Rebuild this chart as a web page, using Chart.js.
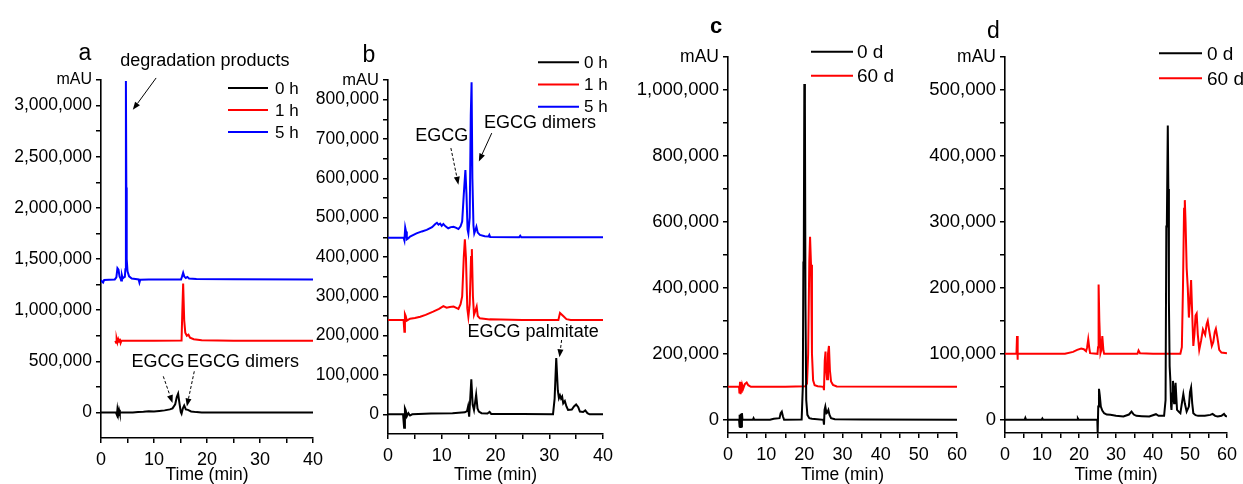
<!DOCTYPE html>
<html><head><meta charset="utf-8">
<script src="https://cdn.jsdelivr.net/npm/chart.js@4.4.1/dist/chart.umd.min.js"></script>
<style>
html,body{margin:0;padding:0;background:#fff;}
#wrap{position:relative;width:1243px;height:484px;overflow:hidden;background:#fff;}
canvas{position:absolute;left:0;top:0;}
</style></head><body>
<div id="wrap">
<canvas id="ca" width="1243" height="484"></canvas>
<canvas id="cb" width="1243" height="484"></canvas>
<canvas id="cc" width="1243" height="484"></canvas>
<canvas id="cd" width="1243" height="484"></canvas>
</div>
<script>
// ---------- DATA (time in min, signal in mAU) ----------
// Panel a
const a_0h = [[0,0],[2.8,0],[3.0,-25000],[3.1,30000],[3.25,-20000],[3.4,25000],[3.55,-10000],[3.7,0],[6,0],[7,4000],[8,7000],[9,12000],[10,9000],[11,14000],[12,20000],[13,30000],[13.5,40000],[14.0,80000],[14.3,150000],[14.55,183000],[14.8,90000],[15.05,5000],[15.2,-12000],[15.45,40000],[15.7,68000],[16.0,30000],[16.4,25000],[17,10000],[18,3000],[19,0],[40,0]];
const a_1h = [[2.7,700000],[2.85,680000],[2.95,720000],[3.1,685000],[3.25,715000],[3.4,690000],[3.55,720000],[3.7,680000],[3.85,700000],[6,700000],[10,700000],[15.2,702000],[15.35,1000000],[15.5,1260000],[15.7,900000],[15.9,780000],[16.2,750000],[16.5,760000],[16.8,730000],[17.5,715000],[19,705000],[25,700000],[40,700000]];
const a_5h = [[0,1295000],[0.2,1280000],[0.4,1270000],[0.6,1295000],[1.5,1298000],[2.6,1300000],[2.9,1320000],[3.1,1410000],[3.3,1395000],[3.5,1330000],[3.7,1310000],[3.8,1290000],[3.95,1340000],[4.1,1310000],[4.3,1320000],[4.5,1325000],[4.6,1400000],[4.7,3240000],[4.78,2200000],[4.85,1500000],[5.0,1380000],[5.3,1330000],[5.8,1310000],[6.5,1305000],[7.1,1300000],[7.25,1270000],[7.4,1298000],[9,1300000],[15.1,1300000],[15.3,1330000],[15.5,1365000],[15.7,1330000],[16.0,1315000],[16.3,1325000],[16.6,1310000],[18,1305000],[25,1302000],[40,1300000]];
// Panel b
const b_0h = [[0,0],[2.8,0],[3.0,-34000],[3.15,15000],[3.3,10000],[3.5,-5000],[3.8,3000],[4.1,-3000],[4.5,0],[8,2000],[12,3000],[14.3,5000],[14.7,8000],[14.9,20000],[15.1,-6000],[15.3,40000],[15.5,89000],[15.75,25000],[16.0,11000],[16.2,30000],[16.4,50000],[16.65,15000],[16.9,7000],[17.4,3000],[18.5,2000],[18.9,6000],[19.2,1000],[25,1000],[30.7,0],[31.0,40000],[31.3,143000],[31.6,60000],[31.8,41000],[32.0,48000],[32.2,40000],[32.4,45000],[32.6,28000],[32.9,34000],[33.2,20000],[33.5,11000],[34.2,12000],[34.6,20000],[35.0,25000],[35.4,18000],[35.7,7000],[36.3,6000],[36.7,10000],[37.1,3000],[37.5,0],[40,0]];
const b_1h = [[0,240000],[2.9,240000],[3.05,210000],[3.15,255000],[3.3,250000],[3.5,238000],[4.1,243000],[5,245000],[6,248000],[7,253000],[8.4,261000],[9.5,268000],[10.3,275000],[10.9,271000],[11.5,273000],[12.2,274000],[12.8,270000],[13.1,268000],[13.5,280000],[13.8,300000],[14.1,400000],[14.3,445000],[14.5,400000],[14.75,270000],[14.95,248000],[15.2,280000],[15.45,400000],[15.6,420000],[15.8,300000],[16.0,253000],[16.3,265000],[16.5,274000],[16.7,250000],[17.1,244000],[18.9,241000],[19,242000],[25,240000],[31.7,240000],[32.0,258000],[32.3,254000],[32.6,250000],[33.2,242000],[34,240000],[40,240000]];
const b_5h = [[0,449000],[2.9,449000],[3.05,442000],[3.2,475000],[3.35,465000],[3.5,445000],[3.8,448000],[4.1,452000],[5.3,460000],[6.3,465000],[7.2,469000],[8.2,476000],[8.8,484000],[9.1,487000],[9.4,482000],[9.7,485000],[10.0,479000],[10.3,484000],[10.7,478000],[11.2,473000],[11.7,476000],[12.2,477000],[12.7,474000],[13.1,471000],[13.5,478000],[13.8,490000],[14.1,560000],[14.4,621000],[14.6,560000],[14.8,470000],[14.95,460000],[15.2,500000],[15.4,760000],[15.55,844000],[15.7,600000],[15.9,480000],[16.05,460000],[16.3,470000],[16.45,477000],[16.7,462000],[17.1,456000],[18.0,453000],[18.7,452000],[18.85,456000],[19.0,451000],[24.4,450000],[24.6,454000],[24.8,450000],[40,450000]];
// Panel c
const c_0d = [[0,0],[2.9,0],[3.0,-22000],[3.1,15000],[3.2,-22000],[3.35,18000],[3.5,-20000],[3.65,20000],[3.8,0],[4.5,0],[6.5,0],[6.7,5000],[6.9,0],[11,0],[12,3000],[13.5,5000],[13.8,20000],[14.1,25000],[14.4,10000],[14.7,0],[19.3,1000],[19.6,100000],[19.75,480000],[19.85,470000],[20.0,1018000],[20.15,960000],[20.3,350000],[20.5,60000],[20.8,15000],[21.3,5000],[22,3000],[25.0,0],[25.15,-15000],[25.3,30000],[25.5,40000],[25.8,20000],[26.0,22000],[26.3,30000],[26.6,15000],[27.0,5000],[28,2000],[35,1000],[60,0]];
const c_60d = [[0,100000],[2.9,100000],[3.0,80000],[3.15,115000],[3.3,78000],[3.45,112000],[3.6,82000],[3.75,105000],[4.0,95000],[4.4,108000],[4.9,113000],[5.3,105000],[6,100000],[15,100000],[20.3,102000],[20.7,110000],[21.0,200000],[21.3,480000],[21.5,555000],[21.75,470000],[22.0,200000],[22.3,120000],[22.7,105000],[23.5,102000],[25.0,100000],[25.15,90000],[25.35,180000],[25.55,207000],[25.75,150000],[25.95,123000],[26.2,200000],[26.45,224000],[26.7,150000],[27.0,116000],[27.5,106000],[28.5,101000],[60,100000]];
// Panel d
const d_0d = [[0,0],[5.3,0],[5.5,3000],[5.7,0],[9.9,0],[10.1,2000],[10.3,0],[19.5,0],[19.7,2000],[19.9,0],[24.95,0],[25.05,-20000],[25.2,20000],[25.4,47000],[25.6,38000],[25.9,20000],[26.3,14000],[26.8,10000],[27.5,8000],[28.5,7500],[30,6000],[32,5000],[33.5,8000],[34.2,12500],[34.8,8000],[35.5,6000],[37,5500],[39,5000],[40.8,8500],[41.5,6000],[43.0,6000],[43.4,30000],[43.6,293000],[43.75,300000],[44.0,446000],[44.15,350000],[44.3,180000],[44.5,81000],[44.7,59000],[44.9,20000],[45.0,15000],[45.2,40000],[45.4,59000],[45.6,30000],[45.7,25000],[45.9,45000],[46.1,56000],[46.3,35000],[46.5,15000],[47.0,12000],[47.4,10000],[47.8,25000],[48.2,39000],[48.6,25000],[49.1,12500],[49.7,20000],[50.0,42000],[50.3,49000],[50.6,25000],[50.9,10000],[51.5,7000],[52.2,6000],[54,6000],[55.5,7500],[56.1,9000],[56.8,6000],[57.5,5000],[58.5,6000],[59.2,9000],[59.6,6000],[60,5000]];
const d_60d = [[0,100000],[3.1,100000],[3.25,127000],[3.35,91000],[3.5,100000],[10,100000],[16.2,100000],[18.4,103000],[19.5,106000],[20.6,108000],[21.3,107000],[21.9,104000],[22.2,110000],[22.5,122000],[22.8,108000],[23.0,101000],[25.0,100000],[25.15,110000],[25.3,205000],[25.5,150000],[25.8,101000],[26.0,105000],[26.3,127000],[26.6,105000],[26.8,100000],[35.8,100000],[36.1,105000],[36.5,101000],[40,100000],[47.4,100000],[47.8,110000],[48.1,200000],[48.4,320000],[48.6,333000],[48.8,300000],[49.1,230000],[49.4,200000],[49.7,155000],[50.0,180000],[50.3,212000],[50.6,160000],[50.9,112000],[51.2,130000],[51.5,158000],[51.8,161000],[52.1,130000],[52.5,106000],[53.0,120000],[53.5,137000],[53.8,133000],[54.1,129000],[54.5,145000],[54.8,150000],[55.2,135000],[55.9,112000],[56.3,118000],[56.7,133000],[57.0,138000],[57.4,125000],[57.9,106000],[58.5,102000],[60,101000]];

// Tick values
const xMajor40 = [0,10,20,30,40], xMinor40 = [5,15,25,35];
const xMajor60 = [0,10,20,30,40,50,60], xMinor60 = [5,15,25,35,45,55];
const yMajorA = [0,500000,1000000,1500000,2000000,2500000,3000000];
const yMinorA = [250000,750000,1250000,1750000,2250000,2750000];
const yMajorB = [0,100000,200000,300000,400000,500000,600000,700000,800000];
const yMinorB = [50000,150000,250000,350000,450000,550000,650000,750000];
const yMajorC = [0,200000,400000,600000,800000,1000000];
const yMinorC = [100000,300000,500000,700000,900000];
const yMajorD = [0,100000,200000,300000,400000,500000];
const yMinorD = [50000,150000,250000,350000,450000];

// Labels
const hLabels = ['0 h','1 h','5 h'];
const dLabels = ['0 d','60 d'];

// ---------- RENDER ----------
Chart.defaults.font.family = "'Liberation Sans', Arial, Helvetica, sans-serif";
Chart.defaults.color = '#000';
const FF = "'Liberation Sans', Arial, Helvetica, sans-serif";
const LW = 2;
const fmt = v => v.toLocaleString('en-US');

function arrow(ctx, x1, y1, x2, y2, dashed) {
  ctx.save();
  ctx.strokeStyle = '#000'; ctx.fillStyle = '#000'; ctx.lineWidth = 1;
  if (dashed) ctx.setLineDash([3, 2]);
  const ang = Math.atan2(y2 - y1, x2 - x1), L = 8, Wd = 3;
  const bx = x2 - L * Math.cos(ang), by = y2 - L * Math.sin(ang);
  ctx.beginPath(); ctx.moveTo(x1, y1); ctx.lineTo(bx, by); ctx.stroke();
  ctx.setLineDash([]);
  ctx.beginPath(); ctx.moveTo(x2, y2);
  ctx.lineTo(bx + Wd * Math.sin(ang), by - Wd * Math.cos(ang));
  ctx.lineTo(bx - Wd * Math.sin(ang), by + Wd * Math.cos(ang));
  ctx.closePath(); ctx.fill();
  ctx.restore();
}

function makeDecor(p) {
  return {
    id: 'decor',
    afterDraw(chart) {
      const ctx = chart.ctx, ca = chart.chartArea, xs = chart.scales.x, ys = chart.scales.y;
      ctx.save();
      ctx.fillStyle = '#000';
      ctx.font = p.letter.font; ctx.textAlign = 'center'; ctx.textBaseline = 'alphabetic';
      ctx.fillText(p.letter.text, ca.left + p.letter.dx, ca.top + p.letter.dy);
      // legend
      p.series.forEach((s, i) => {
        const y = ca.top + p.legend.dy + i * p.legend.gap, x0 = ca.left + p.legend.dx;
        ctx.strokeStyle = s.color; ctx.lineWidth = LW;
        ctx.beginPath(); ctx.moveTo(x0, y); ctx.lineTo(x0 + p.legend.len, y); ctx.stroke();
        ctx.fillStyle = '#000';
        ctx.font = p.legend.size + 'px ' + FF; ctx.textAlign = 'left'; ctx.textBaseline = 'middle';
        ctx.fillText(s.label, x0 + p.legend.len + p.legend.tgap, y + 1);
      });
      // annotations
      (p.notes || []).forEach(n => {
        ctx.font = '18px ' + FF; ctx.textAlign = 'center'; ctx.textBaseline = 'middle'; ctx.fillStyle = '#000';
        ctx.fillText(n.text, xs.getPixelForValue(n.x), ys.getPixelForValue(n.y));
      });
      (p.arrows || []).forEach(a => {
        arrow(ctx, xs.getPixelForValue(a.from[0]), ys.getPixelForValue(a.from[1]),
              xs.getPixelForValue(a.to[0]), ys.getPixelForValue(a.to[1]), a.dashed);
      });
      ctx.restore();
    }
  };
}

function makePanel(p) {
  const W = p.yAxisWidth, H = 484 - p.area.bottom;
  const datasets = p.series.map(s => ({
    label: s.label, data: s.data.map(([x, y]) => ({ x, y })),
    borderColor: s.color, backgroundColor: s.color, borderWidth: LW,
    pointRadius: 0, tension: 0, fill: false
  }));
  const yVals = [...p.yMajor, ...p.yMinor, p.yMax].sort((a, b) => a - b);
  const xVals = [...p.xMajor, ...p.xMinor].sort((a, b) => a - b);
  const axisGrid = { drawOnChartArea: false, drawTicks: true, tickLength: 5, color: '#000', lineWidth: 1.5 };
  const axisBorder = { display: true, color: '#000', width: 1.6 };
  new Chart(document.getElementById(p.id), {
    type: 'line',
    data: { datasets },
    options: {
      responsive: false, animation: false, devicePixelRatio: 1,
      layout: { padding: { left: p.area.left - W, right: 1243 - p.area.right, top: p.area.top, bottom: 0 } },
      plugins: { legend: { display: false }, tooltip: { enabled: false } },
      scales: {
        x: {
          type: 'linear', min: p.xMin, max: p.xMax, offset: false,
          afterBuildTicks: s => { s.ticks = xVals.map(v => ({ value: v })); },
          afterFit: s => { s.height = H; },
          ticks: { autoSkip: false, maxRotation: 0, padding: 6, font: { size: 18 },
                   callback: v => p.xMajor.includes(v) ? String(v) : '' },
          grid: axisGrid, border: axisBorder,
          title: { display: true, text: 'Time (min)', font: { size: 17.5, lineHeight: 1 }, padding: { top: 0, bottom: 0 } }
        },
        y: {
          type: 'linear', min: p.yMin, max: p.yMax,
          afterBuildTicks: s => { s.ticks = yVals.map(v => ({ value: v })); },
          afterFit: s => { s.width = W; },
          ticks: { autoSkip: false, padding: 4,
                   font: c => ({ size: (c.tick && c.tick.value === p.yMax) ? p.mauSize : p.yFont }),
                   callback: v => v === p.yMax ? 'mAU' : (p.yMajor.includes(v) ? fmt(v) : '') },
          grid: axisGrid, border: axisBorder
        }
      }
    },
    plugins: [makeDecor(p)]
  });
}

makePanel({
  id: 'ca', area: { left: 101, right: 313, top: 80, bottom: 438 }, yAxisWidth: 100,
  xMin: 0, xMax: 40, xMajor: xMajor40, xMinor: xMinor40,
  yMin: -250000, yMax: 3250000, yMajor: yMajorA, yMinor: yMinorA, yFont: 17.5, mauSize: 16,
  series: [{ label: hLabels[0], data: a_0h, color: '#000000' },
           { label: hLabels[1], data: a_1h, color: '#ff0000' },
           { label: hLabels[2], data: a_5h, color: '#0000ff' }],
  letter: { text: 'a', font: '23px ' + FF, dx: -16, dy: -20 },
  legend: { dx: 127, dy: 8, gap: 22, len: 40, tgap: 7, size: 17 },
  notes: [{ text: 'degradation products', x: 19.6, y: 3440000 },
          { text: 'EGCG', x: 10.75, y: 497000 },
          { text: 'EGCG dimers', x: 26.8, y: 497000 }],
  arrows: [{ from: [10.4, 3270000], to: [6.0, 2958000], dashed: false },
           { from: [11.75, 353000], to: [13.5, 92000], dashed: true },
           { from: [17.6, 402000], to: [16.2, 59000], dashed: true }]
});

makePanel({
  id: 'cb', area: { left: 388, right: 603, top: 80, bottom: 434 }, yAxisWidth: 100,
  xMin: 0, xMax: 40, xMajor: xMajor40, xMinor: xMinor40,
  yMin: -50000, yMax: 850000, yMajor: yMajorB, yMinor: yMinorB, yFont: 17.5, mauSize: 16.5,
  series: [{ label: hLabels[0], data: b_0h, color: '#000000' },
           { label: hLabels[1], data: b_1h, color: '#ff0000' },
           { label: hLabels[2], data: b_5h, color: '#0000ff' }],
  letter: { text: 'b', font: '23px ' + FF, dx: -19, dy: -18 },
  legend: { dx: 150, dy: -17.7, gap: 22.2, len: 41, tgap: 5, size: 17 },
  notes: [{ text: 'EGCG', x: 10.0, y: 707000 },
          { text: 'EGCG dimers', x: 28.3, y: 741000 },
          { text: 'EGCG palmitate', x: 27.0, y: 209000 }],
  arrows: [{ from: [11.7, 677000], to: [13.1, 584000], dashed: true },
           { from: [19.3, 715000], to: [16.9, 643000], dashed: false },
           { from: [32.3, 189000], to: [31.9, 145000], dashed: true }]
});

makePanel({
  id: 'cc', area: { left: 728, right: 957, top: 57, bottom: 433 }, yAxisWidth: 110,
  xMin: 0, xMax: 60, xMajor: xMajor60, xMinor: xMinor60,
  yMin: -40000, yMax: 1100000, yMajor: yMajorC, yMinor: yMinorC, yFont: 18.5, mauSize: 17.5,
  series: [{ label: dLabels[0], data: c_0d, color: '#000000' },
           { label: dLabels[1], data: c_60d, color: '#ff0000' }],
  letter: { text: 'c', font: 'bold 22px ' + FF, dx: -12, dy: -24 },
  legend: { dx: 83, dy: -5.3, gap: 24, len: 42, tgap: 4, size: 19 }
});

makePanel({
  id: 'cd', area: { left: 1005, right: 1233, top: 57, bottom: 433 }, yAxisWidth: 100,
  xMin: 0, xMax: 60, xMajor: xMajor60, xMinor: xMinor60,
  yMin: -20000, yMax: 550000, yMajor: yMajorD, yMinor: yMinorD, yFont: 18.5, mauSize: 17.5,
  series: [{ label: dLabels[0], data: d_0d, color: '#000000' },
           { label: dLabels[1], data: d_60d, color: '#ff0000' }],
  letter: { text: 'd', font: '23px ' + FF, dx: -11.5, dy: -19 },
  legend: { dx: 154, dy: -3.7, gap: 25, len: 43, tgap: 5, size: 19 }
});
</script>
</body></html>
